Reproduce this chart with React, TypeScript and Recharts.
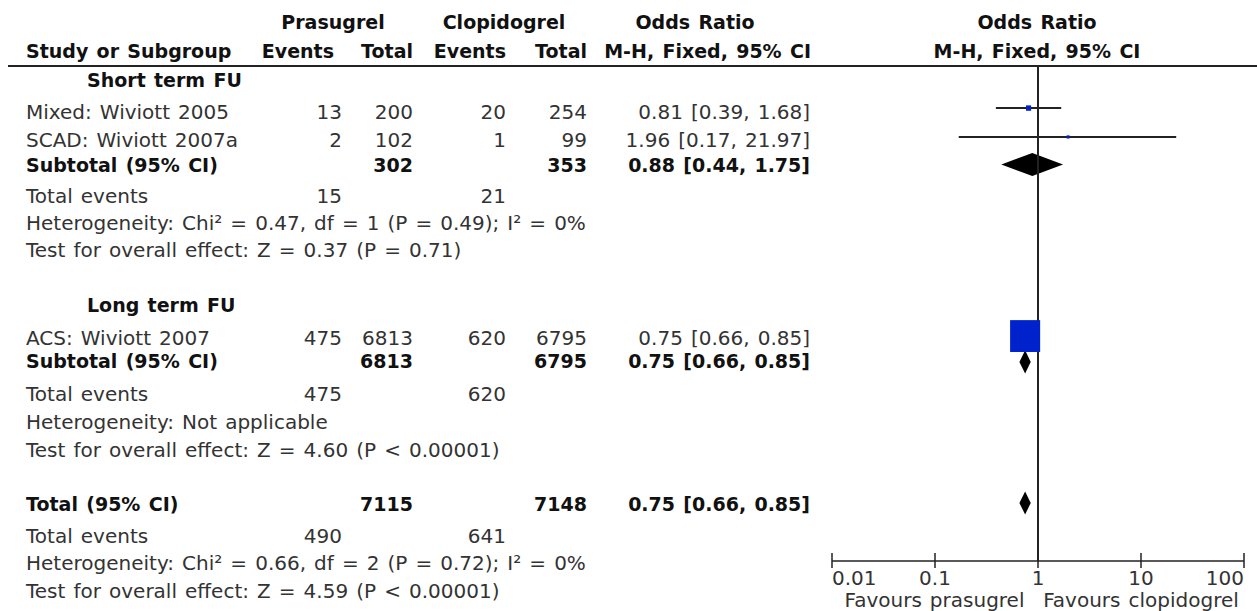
import React from 'react'
import { ComposedChart, Scatter, ErrorBar, Area, XAxis, YAxis, ReferenceLine } from 'recharts'

// studies
const studyNames = ['Mixed: Wiviott 2005', 'SCAD: Wiviott 2007a', 'ACS: Wiviott 2007']
const prasEvents = [13, 2, 475]
const prasTotal = [200, 102, 6813]
const clopEvents = [20, 1, 620]
const clopTotal = [254, 99, 6795]
const studyOR = [0.81, 1.96, 0.75]
const studyLow = [0.39, 0.17, 0.66]
const studyHigh = [1.68, 21.97, 0.85]
const studyWeight = [2.8, 0.2, 97.1]
const studyRow = [1.53, 2.58, 9.82]

// subtotals + overall
const sumLabels = ['Subtotal (95% CI)', 'Subtotal (95% CI)', 'Total (95% CI)']
const sumPrasTotal = [302, 6813, 7115]
const sumClopTotal = [353, 6795, 7148]
const sumOR = [0.88, 0.75, 0.75]
const sumLow = [0.44, 0.66, 0.66]
const sumHigh = [1.75, 0.85, 0.85]
const sumRow = [3.58, 10.76, 15.89]

const totalPrasEvents = [15, 475, 490]
const totalClopEvents = [21, 620, 641]
const heterogeneity = [
  'Heterogeneity: Chi² = 0.47, df = 1 (P = 0.49); I² = 0%',
  'Heterogeneity: Not applicable',
  'Heterogeneity: Chi² = 0.66, df = 2 (P = 0.72); I² = 0%',
]
const overallEffect = [
  'Test for overall effect: Z = 0.37 (P = 0.71)',
  'Test for overall effect: Z = 4.60 (P < 0.00001)',
  'Test for overall effect: Z = 4.59 (P < 0.00001)',
]
const groupNames = ['Short term FU', 'Long term FU']
const xTicks = [0.01, 0.1, 1, 10, 100]

const FONT = '"DejaVu Sans", sans-serif'
const DIAMOND_H = 0.42

const fmtCI = (o: number, l: number, h: number) => `${o.toFixed(2)} [${l.toFixed(2)}, ${h.toFixed(2)}]`

const studyData = studyOR.map((o, i) => ({
  x: o,
  row: studyRow[i],
  weight: studyWeight[i],
  err: [o - studyLow[i], studyHigh[i] - o],
}))

const diamonds = sumOR.map((o, i) => [
  { x: sumLow[i], band: [sumRow[i], sumRow[i]] },
  { x: o, band: [sumRow[i] - DIAMOND_H, sumRow[i] + DIAMOND_H] },
  { x: sumHigh[i], band: [sumRow[i], sumRow[i]] },
])

const StudyBox = (props: any) => {
  const { cx, cy, payload } = props
  const side = Math.max(3, Math.sqrt(payload.weight * 9.3))
  const h = side * 1.06
  return <rect x={cx - side / 2} y={cy - h / 2} width={side} height={h} fill="#0022cc" />
}

const Tick = (props: any) => {
  const { x, y, payload } = props
  const v = payload.value
  const anchor = v === xTicks[0] ? 'start' : v === xTicks[xTicks.length - 1] ? 'end' : 'middle'
  return (
    <g>
      <line x1={x} x2={x} y1={y - 8} y2={y + 7} stroke="#222" strokeWidth={1.5} />
      <text x={x} y={y + 24} textAnchor={anchor} fontSize={20} fontFamily={FONT} fill="#333">{String(v)}</text>
    </g>
  )
}

type Cell = { t: string | number; x: number; a?: 'start' | 'middle' | 'end'; b?: boolean }

const T = ({ y, c }: { y: number; c: Cell }) => (
  <text
    x={c.x}
    y={y}
    textAnchor={c.a ?? 'end'}
    fontWeight={c.b ? 'bold' : 'normal'}
    fontSize={c.b ? 19 : 20}
    wordSpacing={1.7}
    fill={c.b ? '#111' : '#333'}
  >
    {c.t}
  </text>
)

export default function App() {
  // text lines: baseline y + cells
  const lines: { y: number; cells: Cell[] }[] = [
    { y: 29, cells: [
      { t: 'Prasugrel', x: 333, a: 'middle', b: true },
      { t: 'Clopidogrel', x: 504, a: 'middle', b: true },
      { t: 'Odds Ratio', x: 695, a: 'middle', b: true },
      { t: 'Odds Ratio', x: 1037, a: 'middle', b: true },
    ] },
    { y: 58, cells: [
      { t: 'Study or Subgroup', x: 26, a: 'start', b: true },
      { t: 'Events', x: 334, b: true },
      { t: 'Total', x: 413, b: true },
      { t: 'Events', x: 506, b: true },
      { t: 'Total', x: 587, b: true },
      { t: 'M-H, Fixed, 95% CI', x: 811, b: true },
      { t: 'M-H, Fixed, 95% CI', x: 1037, a: 'middle', b: true },
    ] },
  ]
  const groupY = [
    { head: 87, studies: [0, 1], studyY: [119, 147], sub: 172, te: 203, het: 230, test: 257 },
    { head: 312, studies: [2], studyY: [345], sub: 368, te: 401, het: 429, test: 457 },
  ]
  groupY.forEach((g, gi) => {
    lines.push({ y: g.head, cells: [{ t: groupNames[gi], x: 87, a: 'start', b: true }] })
    g.studies.forEach((si, k) => {
      lines.push({ y: g.studyY[k], cells: [
        { t: studyNames[si], x: 26, a: 'start' },
        { t: prasEvents[si], x: 342 },
        { t: prasTotal[si], x: 413 },
        { t: clopEvents[si], x: 506 },
        { t: clopTotal[si], x: 587 },
        { t: fmtCI(studyOR[si], studyLow[si], studyHigh[si]), x: 810 },
      ] })
    })
    lines.push({ y: g.sub, cells: [
      { t: sumLabels[gi], x: 26, a: 'start', b: true },
      { t: sumPrasTotal[gi], x: 413, b: true },
      { t: sumClopTotal[gi], x: 587, b: true },
      { t: fmtCI(sumOR[gi], sumLow[gi], sumHigh[gi]), x: 810, b: true },
    ] })
    lines.push({ y: g.te, cells: [
      { t: 'Total events', x: 26, a: 'start' },
      { t: totalPrasEvents[gi], x: 342 },
      { t: totalClopEvents[gi], x: 506 },
    ] })
    lines.push({ y: g.het, cells: [{ t: heterogeneity[gi], x: 26, a: 'start' }] })
    lines.push({ y: g.test, cells: [{ t: overallEffect[gi], x: 26, a: 'start' }] })
  })
  lines.push({ y: 511, cells: [
    { t: sumLabels[2], x: 26, a: 'start', b: true },
    { t: sumPrasTotal[2], x: 413, b: true },
    { t: sumClopTotal[2], x: 587, b: true },
    { t: fmtCI(sumOR[2], sumLow[2], sumHigh[2]), x: 810, b: true },
  ] })
  lines.push({ y: 543, cells: [
    { t: 'Total events', x: 26, a: 'start' },
    { t: totalPrasEvents[2], x: 342 },
    { t: totalClopEvents[2], x: 506 },
  ] })
  lines.push({ y: 570, cells: [{ t: heterogeneity[2], x: 26, a: 'start' }] })
  lines.push({ y: 598, cells: [{ t: overallEffect[2], x: 26, a: 'start' }] })
  lines.push({ y: 607, cells: [
    { t: 'Favours prasugrel', x: 934.5, a: 'middle' },
    { t: 'Favours clopidogrel', x: 1141, a: 'middle' },
  ] })

  return (
    <div style={{ position: 'relative', width: 1257, height: 611, background: '#fff', overflow: 'hidden' }}>
      <style>{'body{margin:0}'}</style>
      <ComposedChart width={1257} height={611} margin={{ top: 66, right: 13, bottom: 0, left: 832 }}>
        <XAxis
          type="number"
          dataKey="x"
          scale="log"
          domain={[0.01, 100]}
          ticks={xTicks}
          interval={0}
          allowDataOverflow
          height={50}
          tickLine={false}
          tickSize={0}
          tickMargin={0}
          axisLine={{ stroke: '#222', strokeWidth: 1.5 }}
          tick={<Tick />}
        />
        <YAxis type="number" dataKey="row" domain={[0, 18]} reversed hide allowDataOverflow />
        {diamonds.map((d, i) => (
          <Area
            key={i}
            data={d}
            dataKey="band"
            type="linear"
            stroke="none"
            fill="#000"
            fillOpacity={1}
            dot={false}
            activeDot={false}
            isAnimationActive={false}
          />
        ))}
        <Scatter data={studyData} shape={<StudyBox />} isAnimationActive={false}>
          <ErrorBar dataKey="err" direction="x" width={0} stroke="#222" strokeWidth={2} />
        </Scatter>
        <ReferenceLine x={1} stroke="#222" strokeWidth={2} />
      </ComposedChart>
      <svg width={1257} height={611} style={{ position: 'absolute', left: 0, top: 0, pointerEvents: 'none' }}
        fontFamily={FONT} fontSize={20}>
        <line x1={8} x2={1257} y1={66} y2={66} stroke="#222" strokeWidth={2} />
        {lines.map((l, i) => l.cells.map((c, j) => <T key={`${i}-${j}`} y={l.y} c={c} />))}
      </svg>
    </div>
  )
}
